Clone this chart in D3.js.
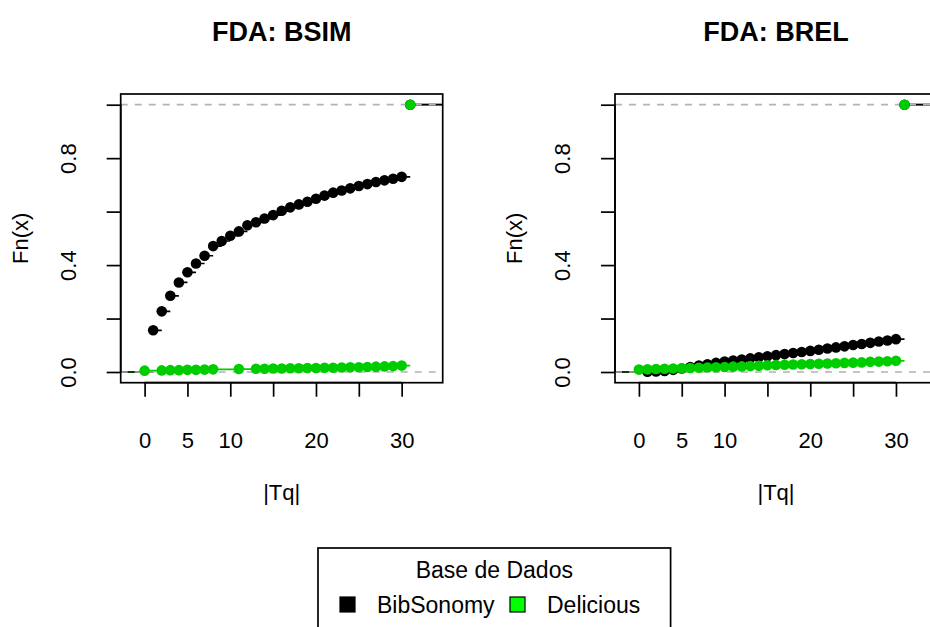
<!DOCTYPE html>
<html>
<head>
<meta charset="utf-8">
<script src="https://cdn.jsdelivr.net/npm/d3@7"></script>
<style>
  body { margin: 0; background: #fff; }
  svg { display: block; font-family: "Liberation Sans", Arial, sans-serif; }
</style>
</head>
<body>
<div id="chart"></div>
<script>
// x knots and Fn(x) values
let bsimBibX = [1,2,3,4,5,6,7,8,9,10,11,12,13,14,15,16,17,18,19,20,21,22,23,24,25,26,27,28,29,30,31];
let bsimBibY = [0.156,0.227,0.285,0.335,0.373,0.406,0.435,0.471,0.490,0.510,0.526,0.549,0.560,0.574,0.587,0.603,0.616,0.627,0.637,0.648,0.660,0.671,0.679,0.687,0.696,0.703,0.711,0.717,0.723,0.730,1.0];
let bsimDelX = [0,2,3,4,5,6,7,8,11,13,14,15,16,17,18,19,20,21,22,23,24,25,26,27,28,29,30,31];
let bsimDelY = [0.005,0.006,0.007,0.007,0.008,0.008,0.009,0.010,0.011,0.012,0.012,0.013,0.013,0.014,0.014,0.015,0.015,0.016,0.016,0.017,0.018,0.018,0.019,0.020,0.021,0.022,0.024,1.0];

let brelBibX = [1,2,3,4,5,6,7,8,9,10,11,12,13,14,15,16,17,18,19,20,21,22,23,24,25,26,27,28,29,30,31];
let brelBibY = [0.001,0.002,0.004,0.008,0.013,0.019,0.024,0.029,0.034,0.039,0.043,0.047,0.051,0.055,0.059,0.063,0.067,0.071,0.075,0.079,0.083,0.088,0.092,0.096,0.101,0.105,0.109,0.114,0.118,0.123,1.0];
let brelDelX = [0,1,2,3,4,5,6,7,8,9,10,11,12,13,14,15,16,17,18,19,20,21,22,23,24,25,26,27,28,29,30,31];
let brelDelY = [0.009,0.010,0.011,0.012,0.013,0.014,0.015,0.016,0.017,0.018,0.019,0.020,0.021,0.022,0.023,0.025,0.026,0.027,0.028,0.029,0.030,0.031,0.032,0.033,0.034,0.035,0.036,0.038,0.039,0.040,0.042,1.0];

let xTicks = [0,5,10,15,20,25,30];
let xTickLabels = ["0","5","10","","20","","30"];
let yTicks = [0,0.2,0.4,0.6,0.8,1.0];
let yTickLabels = ["0.0","","0.4","","0.8",""];

let titles = ["FDA: BSIM", "FDA: BREL"];
let seriesNames = ["BibSonomy", "Delicious"];
let seriesColors = ["#000000", "#00cd00"];

let W = 930, H = 627;
let fontAxis = 22;
let svg = d3.select("#chart").append("svg")
    .attr("width", W).attr("height", H);

function drawPanel(offsetX, title, series) {
  let left = 120.7 + offsetX, right = 442.7 + offsetX;
  let top = 94, bottom = 382.7;

  let x = d3.scaleLinear().domain([-2.79, 34.79]).range([left, right]);
  let y = d3.scaleLinear().domain([-0.04, 1.04]).range([bottom, top]);

  let clipId = "clip" + Math.round(offsetX);
  svg.append("clipPath").attr("id", clipId)
    .append("rect").attr("x", left).attr("y", top)
    .attr("width", right - left).attr("height", bottom - top);

  let g = svg.append("g");
  let plot = g.append("g").attr("clip-path", "url(#" + clipId + ")");

  // step segments: green first, black on top
  [1, 0].forEach(function(si) {
    let s = series[si];
    let segs = [{x0: -2.79, x1: s.x[0], v: 0}];
    s.x.forEach(function(k, i) {
      let nx = i < s.x.length - 1 ? s.x[i + 1] : 34.79;
      segs.push({x0: k, x1: nx, v: s.y[i]});
    });
    plot.append("g").selectAll("line")
      .data(segs).enter().append("line")
        .attr("x1", d => x(d.x0)).attr("x2", d => x(d.x1))
        .attr("y1", d => y(d.v)).attr("y2", d => y(d.v))
        .attr("stroke", seriesColors[si])
        .attr("stroke-width", 1.7);
  });

  // 0 and 1 reference lines
  plot.append("g").selectAll("line")
    .data([0, 1]).enter().append("line")
      .attr("x1", left).attr("x2", right)
      .attr("y1", d => y(d)).attr("y2", d => y(d))
      .attr("stroke", "#b3b3b3")
      .attr("stroke-width", 1.7)
      .attr("stroke-dasharray", "7,7");

  // points
  series.forEach(function(s, si) {
    plot.append("g").selectAll("circle")
      .data(s.x.map((k, i) => ({k: k, v: s.y[i]})))
      .enter().append("circle")
        .attr("cx", d => x(d.k))
        .attr("cy", d => y(d.v))
        .attr("r", 5.3)
        .attr("fill", seriesColors[si]);
  });

  // box
  g.append("rect")
    .attr("x", left).attr("y", top)
    .attr("width", right - left).attr("height", bottom - top)
    .attr("fill", "none").attr("stroke", "#000").attr("stroke-width", 1.7);

  // x axis
  let xAxis = g.append("g").attr("transform", "translate(0," + bottom + ")")
    .call(d3.axisBottom(x).tickValues(xTicks).tickSize(14).tickSizeOuter(0)
      .tickFormat((d, i) => xTickLabels[i]));
  xAxis.select(".domain").attr("d", "M" + x(0) + ",0H" + x(30)).attr("stroke-width", 1.7);
  xAxis.selectAll(".tick line").attr("stroke-width", 1.7);
  xAxis.selectAll(".tick text")
    .attr("y", 65).attr("dy", 0)
    .attr("font-size", fontAxis).attr("font-family", "Liberation Sans, Arial, sans-serif");

  // y axis
  let yAxis = g.append("g").attr("transform", "translate(" + left + ",0)")
    .call(d3.axisLeft(y).tickValues(yTicks).tickSize(14).tickSizeOuter(0)
      .tickFormat((d, i) => yTickLabels[i]));
  yAxis.select(".domain").attr("d", "M0," + y(0) + "V" + y(1)).attr("stroke-width", 1.7);
  yAxis.selectAll(".tick line").attr("stroke-width", 1.7);
  yAxis.selectAll(".tick text")
    .attr("x", 0).attr("dy", 0)
    .attr("text-anchor", "middle")
    .attr("transform", "translate(-45,0) rotate(-90)")
    .attr("font-size", fontAxis).attr("font-family", "Liberation Sans, Arial, sans-serif");

  // titles and axis labels
  g.append("text")
    .attr("x", (left + right) / 2).attr("y", 41)
    .attr("text-anchor", "middle")
    .attr("font-size", 27).attr("font-weight", "bold")
    .text(title);

  g.append("text")
    .attr("x", (left + right) / 2).attr("y", 500)
    .attr("text-anchor", "middle")
    .attr("font-size", fontAxis)
    .text("|Tq|");

  g.append("text")
    .attr("transform", "translate(" + (offsetX + 28) + "," + ((top + bottom) / 2) + ") rotate(-90)")
    .attr("text-anchor", "middle")
    .attr("font-size", fontAxis)
    .text("Fn(x)");
}

drawPanel(0, titles[0], [{x: bsimBibX, y: bsimBibY}, {x: bsimDelX, y: bsimDelY}]);
drawPanel(494.3, titles[1], [{x: brelBibX, y: brelBibY}, {x: brelDelX, y: brelDelY}]);

// legend, centred on the full figure
let legend = svg.append("g");
legend.append("rect")
  .attr("x", 318).attr("y", 548)
  .attr("width", 352.6).attr("height", 110)
  .attr("fill", "none").attr("stroke", "#000").attr("stroke-width", 1.7);
legend.append("text")
  .attr("x", 494.3).attr("y", 578)
  .attr("text-anchor", "middle")
  .attr("font-size", 23)
  .text("Base de Dados");

let legX = [340, 510];
let legendItems = legend.selectAll(".item")
  .data(seriesNames).enter().append("g")
    .attr("class", "item")
    .attr("transform", (d, i) => "translate(" + legX[i] + ",597)");
legendItems.append("rect")
  .attr("width", 15).attr("height", 15)
  .attr("fill", (d, i) => i === 0 ? "#000" : "#00ff00")
  .attr("stroke", "#000").attr("stroke-width", 1.2);
legendItems.append("text")
  .attr("x", 37).attr("y", 16)
  .attr("font-size", 23)
  .text(d => d);
</script>
</body>
</html>
